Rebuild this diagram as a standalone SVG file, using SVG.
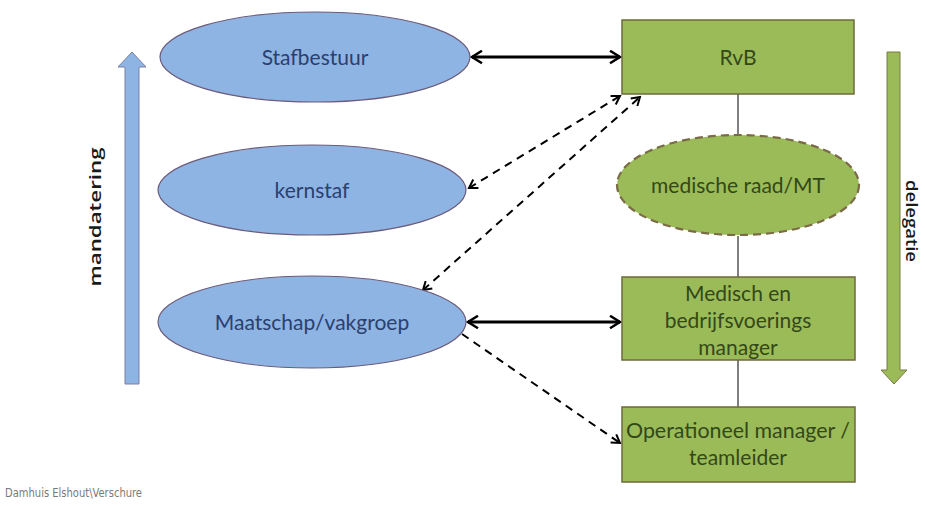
<svg xmlns="http://www.w3.org/2000/svg" width="925" height="506" viewBox="0 0 925 506">
<defs>
<style>
.blue{fill:#8eb4e3;stroke:#6b5a7a;stroke-width:1.2}
.green{fill:#9bbb59;stroke:#6f6a3a;stroke-width:1.5}
.gdash{fill:#9bbb59;stroke:#7a6a45;stroke-width:2.2;stroke-dasharray:8,5}
.tb{font-family:Lato,"Open Sans",sans-serif;font-size:21px;fill:#2a4070;text-anchor:middle}
.tg{font-family:Lato,"Open Sans",sans-serif;font-size:21px;fill:#334818;text-anchor:middle}
.side{font-family:"Open Sans","DejaVu Sans",sans-serif;font-size:17px;font-weight:600;fill:#1a1a1a;text-anchor:middle}
.solid{fill:none;stroke:#000;stroke-width:3;marker-start:url(#ms);marker-end:url(#me)}
.dash{fill:none;stroke:#000;stroke-width:2;stroke-dasharray:8,6}
.vline{stroke:#555;stroke-width:1.5}
</style>
<marker id="me" viewBox="0 0 12 12" refX="10" refY="6" markerWidth="5" markerHeight="5" orient="auto" markerUnits="strokeWidth">
<path d="M2,1 L10,6 L2,11" fill="none" stroke="#000" stroke-width="2"/>
</marker>
<marker id="ms" viewBox="0 0 12 12" refX="2" refY="6" markerWidth="5" markerHeight="5" orient="auto" markerUnits="strokeWidth">
<path d="M10,1 L2,6 L10,11" fill="none" stroke="#000" stroke-width="2"/>
</marker>
<marker id="de" viewBox="0 0 12 12" refX="10" refY="6" markerWidth="6" markerHeight="6" orient="auto" markerUnits="strokeWidth">
<path d="M2,1 L10,6 L2,11" fill="none" stroke="#000" stroke-width="2"/>
</marker>
<marker id="ds" viewBox="0 0 12 12" refX="2" refY="6" markerWidth="6" markerHeight="6" orient="auto" markerUnits="strokeWidth">
<path d="M10,1 L2,6 L10,11" fill="none" stroke="#000" stroke-width="2"/>
</marker>
</defs>
<rect width="925" height="506" fill="#fff"/>

<g id="connectors">
<line class="vline" x1="738" y1="94" x2="738" y2="135"/>
<line class="vline" x1="738" y1="236" x2="738" y2="277"/>
<line class="vline" x1="738" y1="360" x2="738" y2="407"/>
<line class="solid" x1="472" y1="57" x2="620" y2="57"/>
<line class="solid" x1="468" y1="322" x2="620" y2="322"/>
<line class="dash" x1="469" y1="188" x2="620" y2="96" marker-start="url(#ds)" marker-end="url(#de)"/>
<line class="dash" x1="423" y1="290" x2="640" y2="97" marker-start="url(#ds)" marker-end="url(#de)"/>
<line class="dash" x1="462" y1="334" x2="620" y2="443" marker-end="url(#de)"/>
</g>

<g id="mandatering">
<polygon points="132,52 146,67 139,67 139,384 125,384 125,67 118,67" fill="#8eb4e3" stroke="#7b7fa6" stroke-width="1"/>
<text class="side" transform="translate(101,217) rotate(-90)" textLength="139" lengthAdjust="spacingAndGlyphs">mandatering</text>
</g>

<g id="delegatie">
<polygon points="887,52 900,52 900,370 907,370 894,384 881,370 887,370" fill="#9bbb59" stroke="#7a7a40" stroke-width="1"/>
<text class="side" transform="translate(906,221) rotate(90)" textLength="82" lengthAdjust="spacingAndGlyphs">delegatie</text>
</g>

<g id="stafbestuur">
<ellipse class="blue" cx="315" cy="57" rx="155" ry="45"/>
<text class="tb" x="315" y="65">Stafbestuur</text>
</g>

<g id="kernstaf">
<ellipse class="blue" cx="312" cy="190" rx="154" ry="45"/>
<text class="tb" x="312" y="198">kernstaf</text>
</g>

<g id="maatschap">
<ellipse class="blue" cx="312" cy="322" rx="154" ry="46"/>
<text class="tb" x="312" y="330">Maatschap/vakgroep</text>
</g>

<g id="rvb">
<rect class="green" x="622" y="20" width="232" height="74"/>
<text class="tg" x="738" y="65">RvB</text>
</g>

<g id="medische-raad">
<ellipse class="gdash" cx="738" cy="185" rx="121" ry="50"/>
<text class="tg" x="738" y="193">medische raad/MT</text>
</g>

<g id="medisch-manager">
<rect class="green" x="622" y="277" width="233" height="83"/>
<text class="tg" x="738" y="301">Medisch en</text>
<text class="tg" x="738" y="328">bedrijfsvoerings</text>
<text class="tg" x="738" y="355">manager</text>
</g>

<g id="operationeel">
<rect class="green" x="622" y="407" width="233" height="75"/>
<text class="tg" x="738" y="438" textLength="224" lengthAdjust="spacingAndGlyphs">Operationeel manager /</text>
<text class="tg" x="738" y="465">teamleider</text>
</g>

<text x="5" y="497" font-family="'DejaVu Sans Condensed','Liberation Sans Narrow',sans-serif" font-size="12" fill="#7a7a7a" textLength="137" lengthAdjust="spacingAndGlyphs">Damhuis Elshout\Verschure</text>
</svg>
